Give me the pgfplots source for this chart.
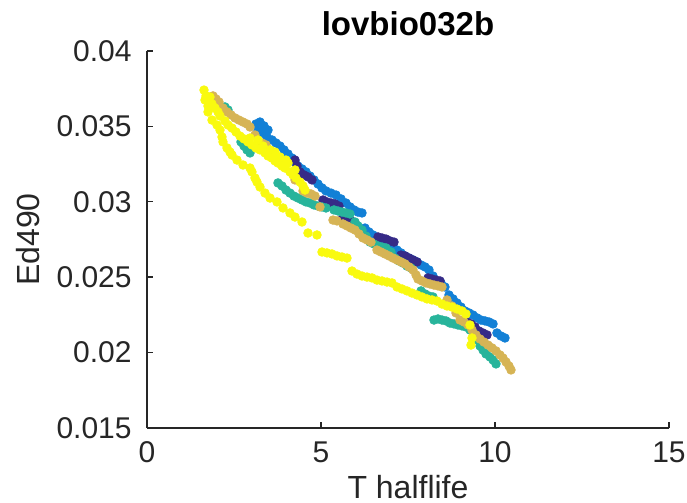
\documentclass[border=0pt]{standalone}
\usepackage{pgfplots}
\pgfplotsset{compat=1.18}
\usepackage{fontspec}
\setmainfont{Liberation Sans}
\definecolor{cnavy}{RGB}{54,42,135}
\definecolor{cblue}{RGB}{18,128,214}
\definecolor{cteal}{RGB}{40,180,155}
\definecolor{ctan}{RGB}{214,180,85}
\definecolor{cyel}{RGB}{249,250,15}
\definecolor{axgray}{RGB}{38,38,38}
\begin{document}
\begin{tikzpicture}
\useasboundingbox (-73.5pt,-37.5pt) rectangle (270pt,214pt);
\begin{axis}[
  at={(0,0)}, anchor=south west,
  scale only axis, width=261pt, height=188.5pt,
  xmin=0, xmax=15, ymin=0.015, ymax=0.04,
  axis lines*=left,
  axis line style={axgray, line width=0.7pt},
  tick style={axgray, line width=0.7pt},
  tick align=inside, major tick length=3pt,
  xtick={0,5,10,15}, xticklabels={0,5,10,15},
  ytick={0.015,0.02,0.025,0.03,0.035,0.04},
  yticklabels={0.015,0.02,0.025,0.03,0.035,0.04},
  scaled y ticks=false,
  ticklabel style={font=\fontsize{15}{18}\selectfont, text=axgray},
  xticklabel style={anchor=base, inner sep=0pt, yshift=-17.5pt},
  yticklabel style={anchor=east, inner sep=0pt, xshift=-7.5pt},
  xlabel={T halflife}, ylabel={Ed490},
  label style={font=\fontsize{16}{19}\selectfont, text=axgray},
  xlabel style={at={(axis description cs:0.5,-0.1857)}, anchor=base},
  ylabel style={at={(axis description cs:-0.205,0.5)}, anchor=base, rotate=0},
  title={lovbio032b},
  every axis title shift=0pt,
  title style={at={(axis description cs:0.5,1.0424)}, anchor=base, inner sep=0pt, font=\bfseries\fontsize{16.5}{20}\selectfont},
  clip=false,
  every axis plot/.append style={only marks, mark=*, mark size=2.15pt},
]
% light blue
\addplot[mark options={draw=cblue, fill=cblue}] coordinates {
(3.132,0.03516)(3.247,0.03529)(3.362,0.03503)(3.190,0.03470)(3.333,0.03456)(3.477,0.03476)(3.448,0.03430)
(3.592,0.03410)(3.707,0.03390)(3.822,0.03370)(3.937,0.03344)(4.052,0.03317)(4.167,0.03290)(4.253,0.03264)
(4.339,0.03237)(4.454,0.03218)(4.569,0.03198)(4.684,0.03171)(4.799,0.03145)(4.914,0.03118)(5.029,0.03092)
(5.144,0.03072)(5.287,0.03058)(5.431,0.03045)(5.575,0.03019)(5.718,0.02992)(5.833,0.02966)(5.948,0.02946)
(6.063,0.02932)(6.178,0.02926)(6.264,0.02826)(6.379,0.02800)(6.494,0.02780)(6.609,0.02760)(6.724,0.02747)
(6.839,0.02740)(6.954,0.02740)(7.069,0.02720)(7.184,0.02680)(7.299,0.02661)(7.414,0.02641)(7.529,0.02627)
(7.644,0.02614)(7.759,0.02601)(7.874,0.02581)(7.989,0.02568)(8.103,0.02548)(8.218,0.02508)(8.333,0.02475)
(8.448,0.02462)(8.563,0.02435)(8.678,0.02382)(8.793,0.02356)(8.908,0.02329)(9.023,0.02302)(9.138,0.02276)
(9.253,0.02263)(9.368,0.02249)(9.483,0.02230)(9.598,0.02216)(9.713,0.02210)(9.828,0.02203)(9.943,0.02190)
(10.057,0.02130)(10.172,0.02110)(10.287,0.02097)
};
% navy
\addplot[mark options={draw=cnavy, fill=cnavy}] coordinates {
(4.253,0.03277)(4.310,0.03237)(4.397,0.03198)(4.511,0.03178)(4.626,0.03165)(4.741,0.03145)
(5.057,0.03012)(5.172,0.02999)(5.287,0.02992)(5.402,0.02986)(5.517,0.02972)
(5.632,0.02899)(5.747,0.02886)(5.862,0.02873)(5.977,0.02860)
(6.638,0.02767)(6.753,0.02760)(6.868,0.02753)(6.983,0.02740)(7.098,0.02733)
(7.299,0.02647)(7.414,0.02641)(7.529,0.02627)(7.644,0.02614)(7.759,0.02601)
(8.075,0.02495)(8.190,0.02488)(8.305,0.02481)(8.420,0.02475)
(9.196,0.02203)(9.310,0.02190)(9.425,0.02170)(9.540,0.02143)(9.655,0.02130)(9.770,0.02117)
};
% teal
\addplot[mark options={draw=cteal, fill=cteal}] coordinates {
(2.241,0.03629)(2.328,0.03609)(2.701,0.03397)(2.787,0.03370)(2.874,0.03344)(2.960,0.03324)
(3.764,0.03125)(3.879,0.03105)(3.994,0.03078)(4.109,0.03058)(4.224,0.03038)(4.339,0.03025)(4.454,0.03012)
(4.569,0.02999)(4.684,0.02992)(4.799,0.02979)(4.914,0.02972)(5.029,0.02966)(5.144,0.02959)(5.374,0.02946)
(5.489,0.02939)(5.603,0.02932)(5.718,0.02926)(5.833,0.02919)(5.977,0.02866)(6.063,0.02840)(6.178,0.02813)
(6.293,0.02773)(6.408,0.02733)(6.523,0.02720)(6.638,0.02707)(6.753,0.02700)(6.868,0.02694)(7.011,0.02667)
(7.126,0.02627)(7.241,0.02608)(7.356,0.02594)(7.471,0.02574)(7.586,0.02561)
(7.874,0.02409)(7.989,0.02389)(8.103,0.02375)(8.218,0.02369)
(8.247,0.02216)(8.362,0.02223)(8.477,0.02216)(8.592,0.02210)(8.707,0.02196)(8.822,0.02190)(8.937,0.02183)
(9.052,0.02177)(9.167,0.02170)(9.282,0.02150)(9.397,0.02123)(9.483,0.02084)(9.569,0.02044)(9.655,0.02017)
(9.741,0.01991)(9.856,0.01971)(9.943,0.01951)(10.029,0.01925)
};
% tan
\addplot[mark options={draw=ctan, fill=ctan}] coordinates {
(1.897,0.03702)(1.983,0.03682)(2.069,0.03662)(2.184,0.03622)(2.299,0.03596)(2.414,0.03576)(2.529,0.03556)
(2.644,0.03542)(2.759,0.03529)(2.874,0.03516)(2.960,0.03496)(3.103,0.03443)(3.305,0.03390)(3.420,0.03377)
(3.535,0.03344)(3.966,0.03244)(4.253,0.03145)(4.483,0.03072)(4.598,0.03058)(4.713,0.03052)(4.828,0.03038)
(4.971,0.02966)(5.345,0.02879)(5.460,0.02873)(5.632,0.02853)(5.747,0.02840)(5.862,0.02826)(5.977,0.02813)
(6.092,0.02787)(6.207,0.02760)(6.322,0.02747)(6.437,0.02733)(6.609,0.02680)(6.724,0.02667)(6.839,0.02654)
(6.954,0.02641)(7.069,0.02627)(7.184,0.02614)(7.299,0.02601)(7.414,0.02588)(7.529,0.02568)(7.644,0.02548)
(7.730,0.02515)(7.787,0.02488)(7.902,0.02475)(8.017,0.02462)(8.132,0.02455)(8.247,0.02448)(8.362,0.02442)
(8.477,0.02435)(8.621,0.02349)(8.764,0.02309)(8.879,0.02263)(8.994,0.02216)(9.109,0.02203)(9.224,0.02183)
(9.339,0.02150)(9.454,0.02117)(9.569,0.02090)(9.684,0.02070)(9.799,0.02050)(9.914,0.02031)(10.029,0.02011)
(10.144,0.01984)(10.230,0.01964)(10.316,0.01938)(10.402,0.01911)(10.460,0.01885)
};
% yellow
\addplot[mark options={draw=cyel, fill=cyel}] coordinates {
(1.638,0.03741)(1.695,0.03702)(1.667,0.03675)(1.810,0.03695)(1.868,0.03649)(1.753,0.03635)
(1.753,0.03596)(1.868,0.03542)(2.012,0.03509)(2.098,0.03476)(2.155,0.03430)(2.184,0.03397)(2.299,0.03357)
(2.385,0.03330)(2.443,0.03310)(2.586,0.03277)(2.759,0.03244)(2.960,0.03224)(3.017,0.03198)(3.103,0.03158)
(3.161,0.03131)(3.247,0.03098)(3.391,0.03058)(3.535,0.03025)(3.736,0.02999)(3.908,0.02959)(4.109,0.02926)
(4.253,0.02899)(4.454,0.02866)(4.626,0.02793)(4.885,0.02780)
(5.029,0.02667)(5.172,0.02661)(5.316,0.02654)(5.460,0.02641)(5.603,0.02634)(5.747,0.02627)
(5.891,0.02541)(6.034,0.02521)(6.178,0.02508)(6.322,0.02501)(6.466,0.02495)(6.609,0.02481)(6.753,0.02475)
(6.897,0.02468)(7.040,0.02462)(7.184,0.02435)(7.328,0.02422)(7.471,0.02409)(7.615,0.02395)(7.759,0.02382)
(7.902,0.02369)(8.046,0.02356)(8.190,0.02349)(8.333,0.02342)(8.477,0.02322)(8.621,0.02309)(8.764,0.02302)
(8.908,0.02289)(9.052,0.02276)(9.167,0.02256)(9.282,0.02183)(9.339,0.02097)(9.310,0.02050)
(1.954,0.03622)(2.040,0.03596)(2.098,0.03569)(2.241,0.03536)(2.328,0.03509)(2.443,0.03489)(2.557,0.03463)
(2.672,0.03436)(2.787,0.03417)(2.902,0.03397)(3.017,0.03377)(3.132,0.03357)(3.247,0.03344)(3.333,0.03370)
(3.391,0.03324)(3.477,0.03304)(3.535,0.03344)(3.592,0.03290)(3.678,0.03271)(3.764,0.03257)(3.822,0.03297)
(3.879,0.03237)(3.966,0.03224)(4.052,0.03257)(4.109,0.03198)(4.195,0.03178)(4.282,0.03158)(4.397,0.03131)
(4.483,0.03105)(4.540,0.03078)(3.190,0.03410)(2.960,0.03423)(3.678,0.03330)(3.994,0.03277)(4.253,0.03211)
};
\end{axis}
\end{tikzpicture}
\end{document}
